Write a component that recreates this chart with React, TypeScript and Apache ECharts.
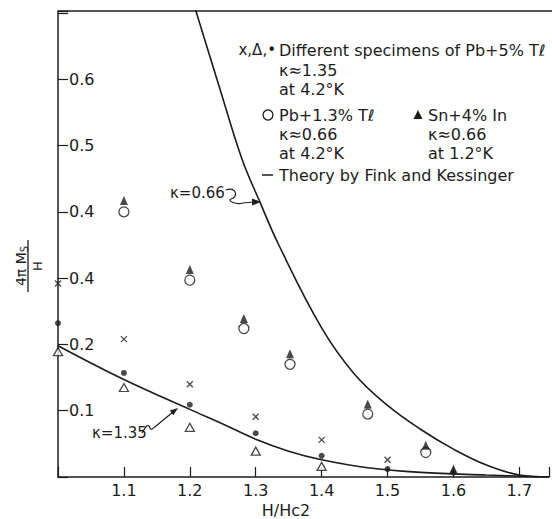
import React, { useEffect, useRef } from "react";
import * as echarts from "echarts";

// Tick labels as printed in the reference (note the duplicated "0.4")
const yTickLabels: Record<number, string> = { 1: "0.1", 2: "0.2", 3: "0.4", 4: "0.4", 5: "0.5", 6: "0.6" };
const xTickLabels: Record<number, string> = { 11: "1.1", 12: "1.2", 13: "1.3", 14: "1.4", 15: "1.5", 16: "1.6", 17: "1.7" };

// Pb + 5% Tl (three specimens)
const pb5Cross: number[][] = [[1.0, 0.292], [1.1, 0.208], [1.2, 0.14], [1.3, 0.091], [1.4, 0.056], [1.5, 0.026]];
const pb5Dot: number[][] = [[1.0, 0.232], [1.1, 0.157], [1.2, 0.109], [1.3, 0.066], [1.4, 0.032], [1.5, 0.012], [1.6, 0.007]];
const pb5Tri: number[][] = [[1.0, 0.189], [1.1, 0.135], [1.2, 0.075], [1.3, 0.039], [1.4, 0.016]];
// Pb + 1.3% Tl
const pb13Circle: number[][] = [[1.1, 0.4], [1.2, 0.297], [1.282, 0.224], [1.352, 0.17], [1.47, 0.095], [1.558, 0.037]];
// Sn + 4% In
const snTri: number[][] = [[1.1, 0.417], [1.2, 0.313], [1.282, 0.239], [1.352, 0.186], [1.47, 0.11], [1.558, 0.048], [1.6, 0.012]];

// Theory by Fink and Kessinger
const theory066: number[][] = [
  [1.204, 0.72], [1.244, 0.591], [1.279, 0.48], [1.305, 0.418], [1.335, 0.35], [1.4, 0.225],
  [1.45, 0.155], [1.5, 0.108], [1.55, 0.072], [1.6, 0.042], [1.65, 0.018], [1.7, 0.003], [1.745, 0],
];
const theory135: number[][] = [
  [1.0, 0.198], [1.1, 0.147], [1.2, 0.102], [1.25, 0.08], [1.3, 0.057], [1.35, 0.039],
  [1.4, 0.026], [1.47, 0.014], [1.55, 0.007], [1.65, 0.003], [1.745, 0],
];

const INK = "#1c1c1c";
const FONT = "DejaVu Sans";

export default function App() {
  const ref = useRef<HTMLDivElement>(null);
  useEffect(() => {
    if (!ref.current) return;
    const chart = echarts.init(ref.current, null, { renderer: "svg" });
    const txt = (x: number, y: number, text: string, size = 16, align = "left") => ({
      type: "text",
      x,
      y,
      style: { text, font: `${size}px "${FONT}"`, fill: INK, align, verticalAlign: "middle" },
    });
    const scatterBase = { type: "scatter", clip: false, z: 5 };
    chart.setOption({
      animation: false,
      backgroundColor: "#fff",
      grid: { left: 58, top: 11, width: 494, height: 466, containLabel: false },
      xAxis: {
        type: "value",
        min: 1.0,
        max: 1.745,
        interval: 0.1,
        splitLine: { show: false },
        axisLine: { show: true, onZero: false, lineStyle: { color: INK, width: 1.5 } },
        axisTick: { show: true, inside: true, length: 10, lineStyle: { color: INK, width: 1.2 } },
        axisLabel: {
          margin: 5,
          fontSize: 16,
          fontFamily: FONT,
          color: INK,
          formatter: (v: number) => (Math.abs(v * 10 - Math.round(v * 10)) < 0.01 && xTickLabels[Math.round(v * 10)]) || "",
        },
      },
      yAxis: {
        type: "value",
        min: 0,
        max: 0.703,
        interval: 0.1,
        splitLine: { show: false },
        axisLine: { show: true, onZero: false, lineStyle: { color: INK, width: 1.5 } },
        axisTick: { show: true, inside: true, length: 10, lineStyle: { color: INK, width: 1.2 } },
        axisLabel: {
          inside: true,
          margin: 11,
          fontSize: 16,
          fontFamily: FONT,
          color: INK,
          formatter: (v: number) => (Math.abs(v * 10 - Math.round(v * 10)) < 0.01 && yTickLabels[Math.round(v * 10)]) || "",
        },
      },
      series: [
        { type: "line", data: theory066, smooth: 0.4, showSymbol: false, lineStyle: { color: INK, width: 1.6 }, z: 3 },
        { type: "line", data: theory135, smooth: 0.4, showSymbol: false, lineStyle: { color: INK, width: 1.6 }, z: 3 },
        { ...scatterBase, data: pb5Cross, symbol: "path://M0,0L10,10M10,0L0,10", symbolSize: 6, itemStyle: { color: "rgba(0,0,0,0)", borderColor: INK, borderWidth: 1.3 } },
        { ...scatterBase, data: pb5Dot, symbol: "circle", symbolSize: 6, itemStyle: { color: INK } },
        { ...scatterBase, data: pb5Tri, symbol: "triangle", symbolSize: [9, 8], itemStyle: { color: "#fff", borderColor: INK, borderWidth: 1.3 } },
        { ...scatterBase, data: pb13Circle, symbol: "circle", symbolSize: 10, itemStyle: { color: "#fff", borderColor: INK, borderWidth: 1.3 } },
        { ...scatterBase, data: snTri, symbol: "triangle", symbolSize: [8, 9], itemStyle: { color: INK }, z: 6 },
      ],
      graphic: [
        // top frame line
        { type: "line", shape: { x1: 58, y1: 11, x2: 552, y2: 11 }, style: { stroke: "#555", lineWidth: 2 } },
        // legend block
        txt(276, 50, "x,Δ,•", 15, "right"),
        txt(279, 50, "Different specimens of Pb+5% Tℓ"),
        txt(279, 70, "κ≈1.35"),
        txt(279, 89, "at 4.2°K"),
        { type: "circle", shape: { cx: 268, cy: 115, r: 5 }, style: { fill: "#fff", stroke: INK, lineWidth: 1.3 } },
        txt(279, 115, "Pb+1.3% Tℓ"),
        { type: "polygon", shape: { points: [[418, 110], [413.5, 119], [422.5, 119]] }, style: { fill: INK } },
        txt(428, 115, "Sn+4% In"),
        txt(279, 134, "κ≈0.66"),
        txt(428, 134, "κ≈0.66"),
        txt(279, 153, "at 4.2°K"),
        txt(428, 153, "at 1.2°K"),
        { type: "line", shape: { x1: 262, y1: 175, x2: 273, y2: 175 }, style: { stroke: INK, lineWidth: 1.5 } },
        txt(279, 175, "Theory by Fink and Kessinger"),
        // curve annotations
        txt(170, 193, "κ=0.66", 15),
        { type: "bezierCurve", shape: { x1: 226, y1: 190, cpx1: 236, cpy1: 186, cpx2: 239, cpy2: 197, x2: 231, y2: 199 }, style: { stroke: INK, lineWidth: 1.2, fill: "none" } },
        { type: "bezierCurve", shape: { x1: 231, y1: 199, cpx1: 227, cpy1: 201, cpx2: 236, cpy2: 205, x2: 243, y2: 203 }, style: { stroke: INK, lineWidth: 1.2, fill: "none" } },
        { type: "line", shape: { x1: 243, y1: 203, x2: 254, y2: 202 }, style: { stroke: INK, lineWidth: 1.2 } },
        { type: "polygon", shape: { points: [[261, 202], [252, 198.5], [252, 205.5]] }, style: { fill: INK } },
        txt(92, 433, "κ=1.35", 15),
        { type: "bezierCurve", shape: { x1: 142, y1: 433, cpx1: 145, cpy1: 428, cpx2: 148, cpy2: 422, x2: 150, y2: 428 }, style: { stroke: INK, lineWidth: 1.2, fill: "none" } },
        { type: "bezierCurve", shape: { x1: 150, y1: 428, cpx1: 151, cpy1: 431, cpx2: 153, cpy2: 428, x2: 156, y2: 426 }, style: { stroke: INK, lineWidth: 1.2, fill: "none" } },
        { type: "line", shape: { x1: 156, y1: 426, x2: 173, y2: 412 }, style: { stroke: INK, lineWidth: 1.2 } },
        { type: "polygon", shape: { points: [[178, 408], [173.4, 415.2], [169.8, 410.4]] }, style: { fill: INK } },
        // y-axis title (fraction, rotated)
        {
          type: "text",
          x: 21,
          y: 266,
          rotation: Math.PI / 2,
          style: {
            text: "{n|4π M}{s|S}",
            align: "center",
            verticalAlign: "middle",
            fill: INK,
            rich: {
              n: { fontSize: 14, fontFamily: FONT, fill: INK, lineHeight: 16 },
              s: { fontSize: 10, fontFamily: FONT, fill: INK, lineHeight: 16, verticalAlign: "bottom" },
            },
          },
        },
        { type: "line", shape: { x1: 28, y1: 240, x2: 28, y2: 292 }, style: { stroke: INK, lineWidth: 1.3 } },
        { type: "text", x: 37, y: 266, rotation: Math.PI / 2, style: { text: "H", font: `13px "${FONT}"`, fill: INK, align: "center", verticalAlign: "middle" } },
        // x-axis title
        { type: "text", x: 286, y: 510, style: { text: "H/Hc2", font: `16px "${FONT}"`, fill: INK, align: "center", verticalAlign: "middle" } },
      ],
    });
    return () => chart.dispose();
  }, []);
  return <div ref={ref} style={{ position: "absolute", left: 0, top: 0, width: 552, height: 519, background: "#fff" }} />;
}
